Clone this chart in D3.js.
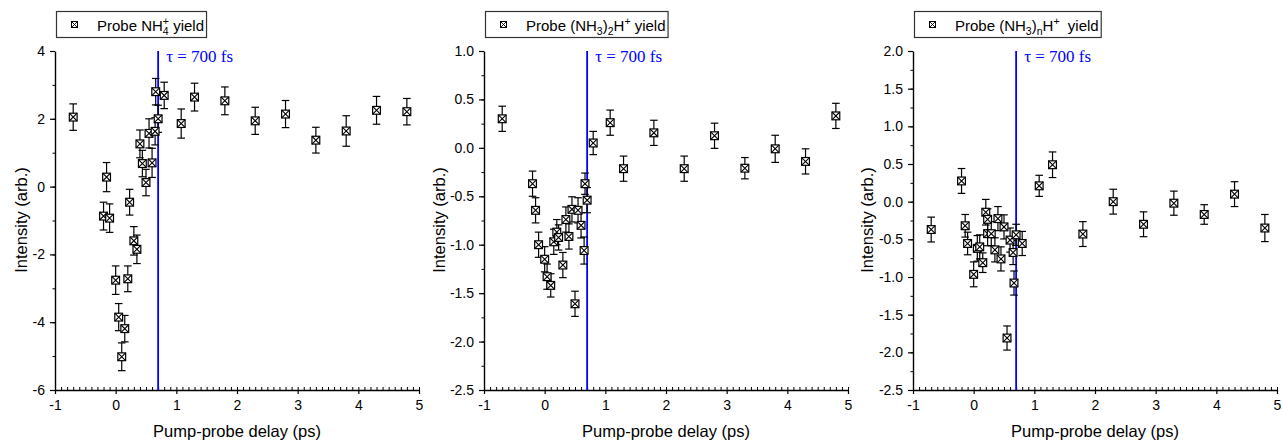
<!DOCTYPE html>
<html>
<head>
<meta charset="utf-8">
<script src="https://cdn.jsdelivr.net/npm/d3@7"></script>
<style>
  html, body { margin: 0; padding: 0; background: #fff; }
  svg { display: block; }
  text { fill: #000; }
</style>
</head>
<body>
<svg id="chart" width="1282" height="443"></svg>
<script>
// Pump-probe delay (ps) and yields for the three probe channels
const delayNH4 = [-0.7, -0.15, -0.2, -0.1, 0.0, 0.05, 0.1, 0.15, 0.2, 0.23, 0.3, 0.35, 0.4, 0.44, 0.5, 0.55, 0.6, 0.65, 0.66, 0.7, 0.8, 1.08, 1.3, 1.8, 2.3, 2.8, 3.3, 3.8, 4.3, 4.8];
const yieldNH4 = [2.05, 0.28, -0.87, -0.93, -2.76, -3.85, -5.02, -4.19, -2.72, -0.46, -1.60, -1.85, 1.26, 0.68, 0.12, 1.57, 0.70, 1.63, 2.80, 2.00, 2.69, 1.86, 2.64, 2.53, 1.94, 2.14, 1.37, 1.64, 2.25, 2.21];
const errNH4 = [0.39, 0.43, 0.41, 0.42, 0.42, 0.40, 0.41, 0.39, 0.38, 0.38, 0.42, 0.42, 0.41, 0.39, 0.39, 0.43, 0.43, 0.40, 0.39, 0.40, 0.39, 0.43, 0.41, 0.41, 0.40, 0.40, 0.38, 0.45, 0.41, 0.39];

const delayDimer = [-0.7, -0.2, -0.15, -0.1, 0.0, 0.04, 0.1, 0.15, 0.2, 0.23, 0.3, 0.35, 0.4, 0.45, 0.5, 0.55, 0.6, 0.65, 0.665, 0.7, 0.8, 1.08, 1.3, 1.8, 2.3, 2.8, 3.3, 3.8, 4.3, 4.8];
const yieldDimer = [0.30, -0.37, -0.645, -1.00, -1.15, -1.33, -1.42, -0.97, -0.87, -0.925, -1.21, -0.74, -0.915, -0.635, -1.61, -0.645, -0.80, -1.06, -0.37, -0.54, 0.05, 0.26, -0.215, 0.155, -0.215, 0.125, -0.21, -0.01, -0.14, 0.33];
const errDimer = [0.13, 0.13, 0.13, 0.13, 0.13, 0.13, 0.12, 0.13, 0.13, 0.13, 0.13, 0.13, 0.13, 0.13, 0.13, 0.13, 0.13, 0.14, 0.11, 0.13, 0.12, 0.13, 0.13, 0.13, 0.13, 0.13, 0.11, 0.14, 0.13, 0.13];

const delayCluster = [-0.7, -0.2, -0.14, -0.1, 0.0, 0.06, 0.1, 0.15, 0.2, 0.23, 0.23, 0.29, 0.35, 0.4, 0.45, 0.5, 0.55, 0.6, 0.65, 0.665, 0.7, 0.8, 1.08, 1.3, 1.8, 2.3, 2.8, 3.3, 3.8, 4.3, 4.8];
const yieldCluster = [-0.37, 0.275, -0.32, -0.555, -0.965, -0.62, -0.60, -0.81, -0.14, -0.235, -0.425, -0.425, -0.64, -0.225, -0.76, -0.335, -1.81, -0.51, -0.675, -1.08, -0.44, -0.555, 0.21, 0.49, -0.43, 0.0, -0.30, -0.02, -0.17, 0.10, -0.35];
const errCluster = [0.165, 0.165, 0.15, 0.15, 0.165, 0.17, 0.16, 0.13, 0.17, 0.14, 0.16, 0.16, 0.16, 0.16, 0.16, 0.16, 0.16, 0.16, 0.16, 0.16, 0.14, 0.16, 0.14, 0.17, 0.165, 0.165, 0.165, 0.16, 0.13, 0.165, 0.18];

// Axis ticks
const delayTicks = [-1, 0, 1, 2, 3, 4, 5];
const ticksNH4 = [-6, -4, -2, 0, 2, 4];
const ticksDimer = [-2.5, -2.0, -1.5, -1.0, -0.5, 0.0, 0.5, 1.0];
const ticksCluster = [-2.5, -2.0, -1.5, -1.0, -0.5, 0.0, 0.5, 1.0, 1.5, 2.0];

const markerDelay = 0.7;
const markerLabel = "\u03C4 = 700 fs";
const xTitle = "Pump-probe delay (ps)";
const yTitle = "Intensity (arb.)";

const SANS = "'Liberation Sans', Arial, sans-serif";
const SERIF = "'Liberation Serif', 'Times New Roman', serif";

const panels = [
  { x: delayNH4, y: yieldNH4, e: errNH4, yTicks: ticksNH4, yMinorStep: 1, fmt: d => String(d),
    legend: [["Probe NH"], ["4", "+"], [" yield"]], titleOffset: 34 },
  { x: delayDimer, y: yieldDimer, e: errDimer, yTicks: ticksDimer, yMinorStep: 0.25, fmt: d => d.toFixed(1),
    legend: [["Probe (NH"], ["3", "sub"], [")"], ["2", "sub"], ["H"], ["+", "sup"], [" yield"]], titleOffset: 45 },
  { x: delayCluster, y: yieldCluster, e: errCluster, yTicks: ticksCluster, yMinorStep: 0.25, fmt: d => d.toFixed(1),
    legend: [["Probe (NH"], ["3", "sub"], [")"], ["n", "sub"], ["H"], ["+", "sup"], ["\u00A0 yield"]], titleOffset: 46 }
];

const svg = d3.select("#chart");
svg.append("rect").attr("width", 1282).attr("height", 443).attr("fill", "#fff");

const W = 364, H = 339, plotTop = 51, step = 429, left0 = 55;

function range(a, b, s) {
  const out = [];
  const n = Math.round((b - a) / s);
  for (let i = 0; i <= n; i++) out.push(+(a + i * s).toFixed(6));
  return out;
}

panels.forEach((p, i) => {
  const left = left0 + i * step;
  const g = svg.append("g").attr("transform", `translate(${left},${plotTop})`);
  const yMin = p.yTicks[0], yMax = p.yTicks[p.yTicks.length - 1];
  const x = d3.scaleLinear().domain([-1, 5]).range([0, W]);
  const y = d3.scaleLinear().domain([yMin, yMax]).range([H, 0]);

  // minor ticks on x (inside, every 0.1 ps)
  g.append("g").attr("transform", `translate(0,${H})`)
    .call(d3.axisBottom(x).tickValues(range(-1, 5, 0.1)).tickSize(-3).tickSizeOuter(0).tickFormat(""))
    .call(a => a.select(".domain").remove())
    .call(a => a.selectAll("line").attr("stroke", "#000").attr("stroke-width", 1));
  // major ticks on x
  g.append("g").attr("transform", `translate(0,${H})`)
    .call(d3.axisBottom(x).tickValues(delayTicks).tickSize(4).tickSizeOuter(0).tickPadding(6).tickFormat(d => String(d)))
    .call(a => a.select(".domain").attr("stroke", "#000").attr("stroke-width", 1.4))
    .call(a => a.selectAll("line").attr("stroke", "#000").attr("stroke-width", 1.2))
    .call(a => a.selectAll("text").style("font-size", "14px").style("font-family", SANS).attr("fill", "#000"));

  // minor ticks on y (outside, shorter)
  g.append("g")
    .call(d3.axisLeft(y).tickValues(range(yMin, yMax, p.yMinorStep)).tickSize(2.5).tickSizeOuter(0).tickFormat(""))
    .call(a => a.select(".domain").remove())
    .call(a => a.selectAll("line").attr("stroke", "#000").attr("stroke-width", 1));
  // major ticks on y
  g.append("g")
    .call(d3.axisLeft(y).tickValues(p.yTicks).tickSize(5).tickSizeOuter(0).tickPadding(5).tickFormat(p.fmt))
    .call(a => a.select(".domain").attr("stroke", "#000").attr("stroke-width", 1.4))
    .call(a => a.selectAll("line").attr("stroke", "#000").attr("stroke-width", 1.2))
    .call(a => a.selectAll("text").style("font-size", "14px").style("font-family", SANS).attr("fill", "#000"));

  // axis titles
  g.append("text").attr("x", W / 2).attr("y", 437 - plotTop)
    .attr("text-anchor", "middle").style("font-family", SANS).style("font-size", "16.5px").text(xTitle);
  g.append("text")
    .attr("transform", `translate(${-p.titleOffset},${220 - plotTop}) rotate(-90)`)
    .attr("text-anchor", "middle").attr("dominant-baseline", "central")
    .style("font-family", SANS).style("font-size", "16.5px").text(yTitle);

  // delay marker line and label
  g.append("line")
    .attr("x1", x(markerDelay)).attr("x2", x(markerDelay))
    .attr("y1", 0).attr("y2", H)
    .attr("stroke", "#0000ff").attr("stroke-width", 1.8);
  g.append("text")
    .attr("x", x(markerDelay) + 8).attr("y", 62 - plotTop)
    .style("font-family", SERIF).style("font-size", "17px").style("fill", "#0000ff")
    .text(markerLabel);

  // data: error bars and crossed-square markers
  const pts = p.x.map((d, k) => ({ x: d, y: p.y[k], e: p.e[k] }));
  const eb = g.append("g").attr("stroke", "#000").attr("stroke-width", 1.2).attr("fill", "none");
  pts.forEach(d => {
    const cx = x(d.x), y1 = y(d.y + d.e), y2 = y(d.y - d.e);
    eb.append("line").attr("x1", cx).attr("x2", cx).attr("y1", y1).attr("y2", y2);
    eb.append("line").attr("x1", cx - 3.8).attr("x2", cx + 3.8).attr("y1", y1).attr("y2", y1);
    eb.append("line").attr("x1", cx - 3.8).attr("x2", cx + 3.8).attr("y1", y2).attr("y2", y2);
  });
  const s = 3.9;
  const mk = g.append("g");
  pts.forEach(d => {
    const cx = x(d.x), cy = y(d.y);
    const m = mk.append("g").attr("transform", `translate(${cx},${cy})`);
    m.append("rect").attr("x", -s).attr("y", -s).attr("width", 2 * s).attr("height", 2 * s)
      .attr("fill", "#fff").attr("stroke", "#000").attr("stroke-width", 1.2);
    m.append("path").attr("d", `M${-s},${-s}L${s},${s}M${-s},${s}L${s},${-s}`)
      .attr("stroke", "#000").attr("stroke-width", 1.1);
  });

  // legend box
  const lg = svg.append("g").attr("transform", `translate(${left + 1.5},11.5)`);
  const box = lg.append("rect").attr("x", 0).attr("y", 0).attr("height", 26)
    .attr("fill", "#fff").attr("stroke", "#333").attr("stroke-width", 1.2);
  const ls = 3;
  const lm = lg.append("g").attr("transform", `translate(18,13)`);
  lm.append("rect").attr("x", -ls).attr("y", -ls).attr("width", 2 * ls).attr("height", 2 * ls)
    .attr("fill", "#fff").attr("stroke", "#000").attr("stroke-width", 1);
  lm.append("path").attr("d", `M${-ls},${-ls}L${ls},${ls}M${-ls},${ls}L${ls},${-ls}`)
    .attr("stroke", "#000").attr("stroke-width", 0.9);

  const t = lg.append("text").attr("x", 40.5).attr("y", 19)
    .style("font-family", SANS).style("font-size", "15px");
  let shift = 0;
  p.legend.forEach(([str, kind]) => {
    if (!kind) {
      t.append("tspan").attr("dy", -shift).text(str);
      shift = 0;
    } else if (kind === "sub") {
      t.append("tspan").attr("dy", 4 - shift).style("font-size", "10.5px").text(str);
      shift = 4;
    } else if (kind === "sup") {
      t.append("tspan").attr("dy", -6 - shift).style("font-size", "10.5px").text(str);
      shift = -6;
    } else {
      // stacked subscript with superscript charge above it
      const sub = t.append("tspan").attr("dy", 4 - shift).style("font-size", "10.5px").text(str);
      const w = sub.node().getComputedTextLength();
      t.append("tspan").attr("dx", -w).attr("dy", -10).style("font-size", "10.5px").text(kind);
      shift = -6;
    }
  });
  const bb = t.node().getBBox();
  box.attr("width", bb.x + bb.width + 2.5);
});
</script>
</body>
</html>
